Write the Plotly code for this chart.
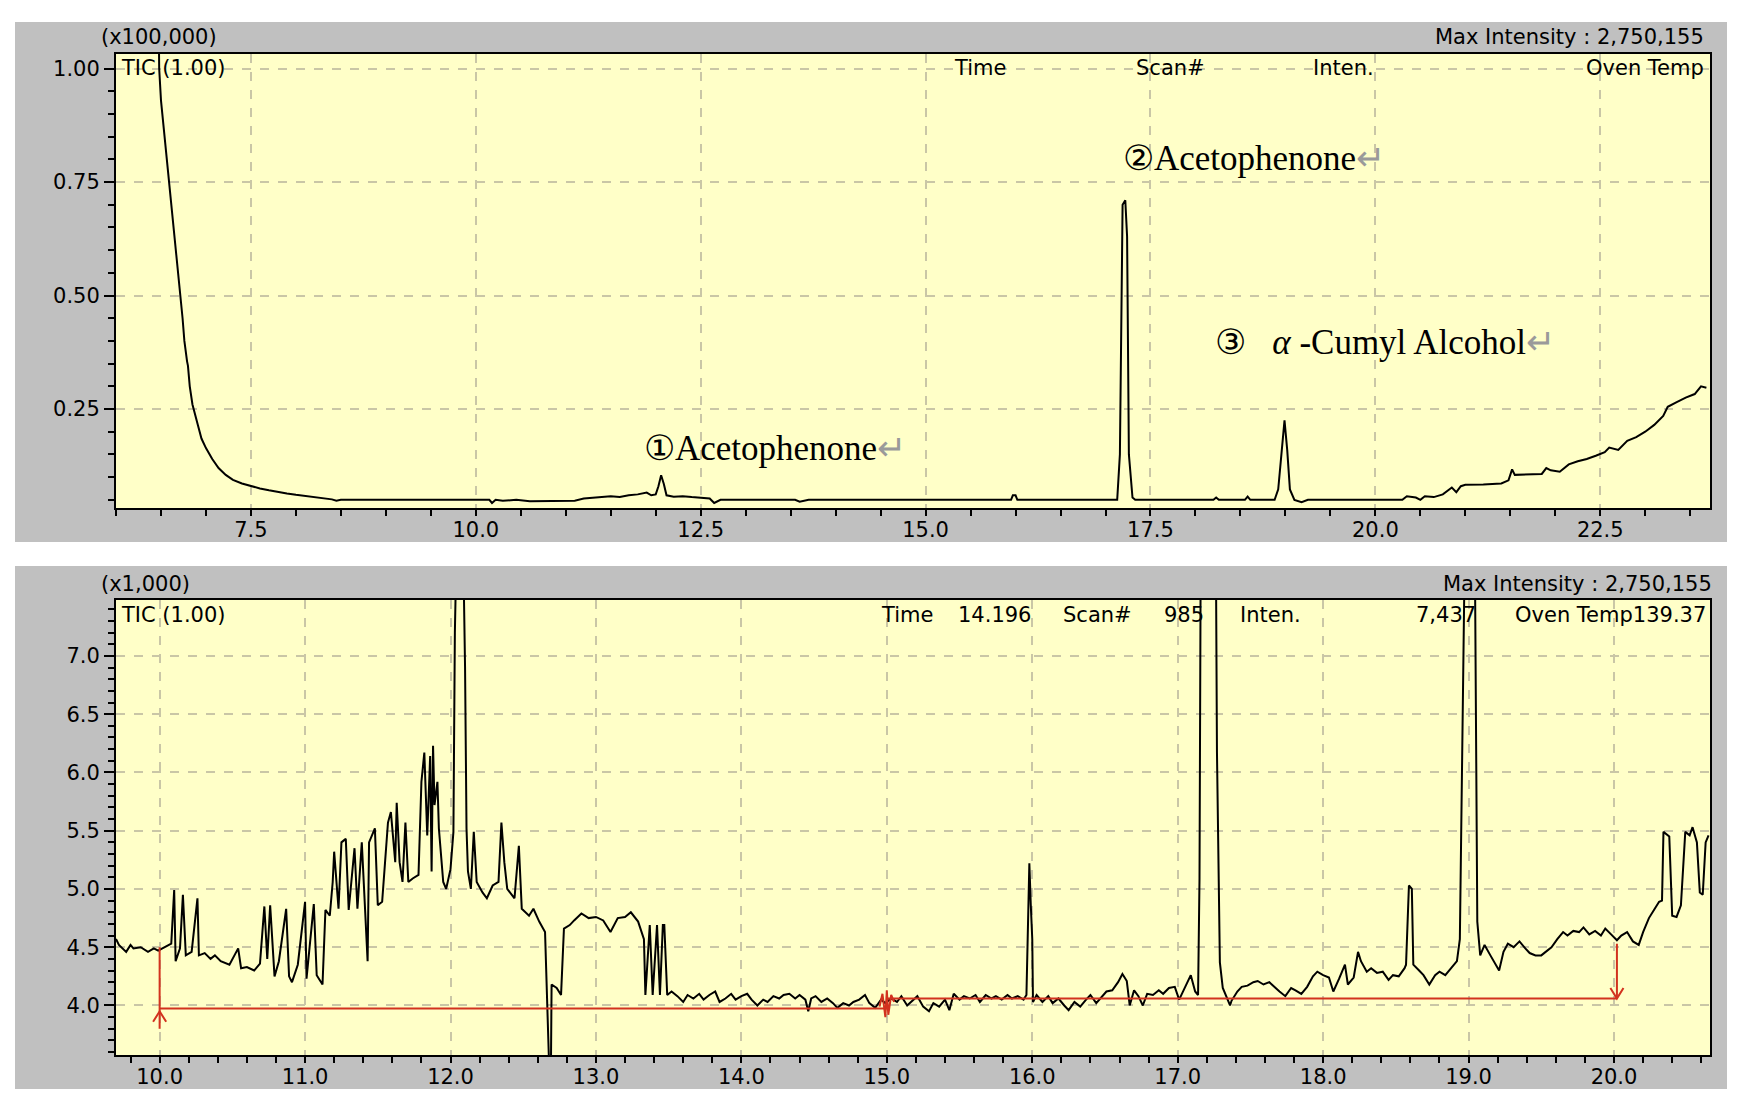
import plotly.graph_objects as go

# ---------------- data (top panel, intensity x100,000) ----------------
top_time = [6.47, 6.48, 6.50, 6.53, 6.56, 6.60, 6.63, 6.66, 6.69, 6.72, 6.74, 6.76, 6.78, 6.79, 6.80,
            6.82, 6.85, 6.88, 6.91, 6.95, 7.00, 7.07, 7.14, 7.22, 7.30, 7.40, 7.52, 7.60, 7.70, 7.77,
            7.90, 8.00, 8.15, 8.27, 8.40, 8.45, 8.50, 9.00, 9.50, 10.00, 10.15, 10.18, 10.22, 10.30,
            10.45, 10.60, 10.80, 11.00, 11.10, 11.20, 11.35, 11.50, 11.60, 11.70, 11.80, 11.90, 11.95,
            12.00, 12.03, 12.06, 12.09, 12.12, 12.20, 12.30, 12.40, 12.50, 12.60, 12.65, 12.72, 13.00,
            13.40, 13.55, 13.60, 13.70, 14.00, 15.00, 15.95, 15.97, 16.00, 16.02, 17.00, 17.13, 17.16,
            17.19, 17.22, 17.24, 17.26, 17.30, 17.33, 18.20, 18.23, 18.26, 18.55, 18.58, 18.61, 18.88,
            18.92, 18.96, 18.99, 19.02, 19.05, 19.10, 19.18, 19.25, 19.50, 20.00, 20.30, 20.35, 20.45,
            20.50, 20.55, 20.65, 20.75, 20.85, 20.90, 20.95, 21.00, 21.20, 21.40, 21.48, 21.52, 21.55,
            21.70, 21.85, 21.90, 21.95, 22.05, 22.15, 22.25, 22.35, 22.45, 22.55, 22.60, 22.70, 22.80,
            22.90, 23.00, 23.10, 23.20, 23.25, 23.35, 23.45, 23.55, 23.62, 23.68]
top_inten = [1.20, 1.00, 0.93, 0.87, 0.81, 0.74, 0.68, 0.62, 0.56, 0.50, 0.45, 0.40, 0.36, 0.355, 0.345,
             0.30, 0.26, 0.235, 0.215, 0.185, 0.164, 0.140, 0.120, 0.105, 0.094, 0.086, 0.079, 0.075, 0.071, 0.068,
             0.064, 0.061, 0.057, 0.054, 0.051, 0.048, 0.050, 0.050, 0.050, 0.050, 0.050, 0.043, 0.050, 0.048,
             0.050, 0.047, 0.048, 0.049, 0.048, 0.053, 0.056, 0.058, 0.056, 0.060, 0.062, 0.066, 0.060,
             0.062, 0.080, 0.104, 0.085, 0.060, 0.057, 0.058, 0.056, 0.055, 0.053, 0.043, 0.050, 0.050,
             0.050, 0.050, 0.046, 0.050, 0.050, 0.050, 0.050, 0.060, 0.060, 0.050, 0.050, 0.050, 0.150,
             0.700, 0.710, 0.630, 0.150, 0.055, 0.050, 0.050, 0.055, 0.050, 0.050, 0.057, 0.050, 0.050,
             0.073, 0.160, 0.225, 0.160, 0.073, 0.050, 0.045, 0.050, 0.050, 0.050, 0.050, 0.058, 0.055,
             0.050, 0.058, 0.056, 0.062, 0.077, 0.067, 0.080, 0.083, 0.084, 0.086, 0.093, 0.117, 0.105,
             0.106, 0.107, 0.120, 0.115, 0.112, 0.128, 0.135, 0.140, 0.147, 0.155, 0.165, 0.160, 0.180,
             0.188, 0.200, 0.215, 0.235, 0.255, 0.265, 0.275, 0.283, 0.300, 0.297]

# ---------------- data (bottom panel, intensity x1,000) ----------------
bot_time = [9.70, 9.72, 9.77, 9.80, 9.82, 9.87, 9.92, 9.96, 9.99, 10.04, 10.08, 10.10, 10.11, 10.14, 10.16,
            10.18, 10.22, 10.26, 10.27, 10.31, 10.35, 10.38, 10.42, 10.48, 10.54, 10.56, 10.60, 10.65, 10.69,
            10.72, 10.74, 10.76, 10.79, 10.82, 10.87, 10.89, 10.91, 10.95, 11.00, 11.01, 11.06, 11.08, 11.12,
            11.14, 11.17, 11.19, 11.20, 11.23, 11.25, 11.28, 11.30, 11.34, 11.36, 11.39, 11.41, 11.43, 11.44,
            11.48, 11.50, 11.53, 11.55, 11.57, 11.59, 11.62, 11.63, 11.65, 11.67, 11.69, 11.71, 11.74, 11.78,
            11.80, 11.82, 11.84, 11.86, 11.87, 11.88, 11.89, 11.91, 11.92, 11.95, 11.97, 12.00, 12.02, 12.03,
            12.05, 12.08, 12.10, 12.11, 12.12, 12.14, 12.16, 12.18, 12.22, 12.25, 12.29, 12.33, 12.35, 12.37,
            12.39, 12.44, 12.47, 12.49, 12.54, 12.57, 12.61, 12.65, 12.66, 12.68, 12.69, 12.695, 12.73, 12.76,
            12.78, 12.82, 12.85, 12.90, 12.95, 13.00, 13.05, 13.10, 13.15, 13.20, 13.24, 13.29, 13.33, 13.34,
            13.37, 13.39, 13.42, 13.44, 13.46, 13.47, 13.49, 13.52, 13.56, 13.60, 13.63, 13.67, 13.71, 13.74,
            13.78, 13.82, 13.85, 13.89, 13.93, 13.96, 14.00, 14.04, 14.07, 14.11, 14.15, 14.18, 14.22, 14.26,
            14.29, 14.33, 14.37, 14.40, 14.44, 14.46, 14.48, 14.51, 14.55, 14.59, 14.63, 14.66, 14.70, 14.74,
            14.77, 14.81, 14.85, 14.88, 14.92, 14.96, 14.99, 15.03, 15.07, 15.10, 15.14, 15.18, 15.21, 15.25,
            15.29, 15.32, 15.36, 15.40, 15.43, 15.46, 15.50, 15.53, 15.57, 15.61, 15.64, 15.68, 15.72, 15.75,
            15.79, 15.83, 15.86, 15.90, 15.94, 15.96, 15.97, 15.98, 15.99, 16.00, 16.005, 16.03, 16.07, 16.11,
            16.14, 16.18, 16.22, 16.25, 16.29, 16.33, 16.37, 16.40, 16.44, 16.48, 16.51, 16.55, 16.59, 16.62,
            16.65, 16.67, 16.70, 16.73, 16.76, 16.79, 16.83, 16.87, 16.90, 16.94, 16.98, 17.01, 17.05, 17.09,
            17.12, 17.14, 17.15, 17.16, 17.26, 17.27, 17.29, 17.31, 17.36, 17.37, 17.41, 17.44, 17.48, 17.52,
            17.55, 17.59, 17.63, 17.67, 17.70, 17.74, 17.78, 17.81, 17.85, 17.89, 17.93, 17.96, 18.00, 18.04,
            18.07, 18.11, 18.15, 18.17, 18.21, 18.24, 18.26, 18.30, 18.33, 18.37, 18.41, 18.45, 18.48, 18.52,
            18.56, 18.57, 18.59, 18.61, 18.62, 18.66, 18.69, 18.73, 18.77, 18.80, 18.84, 18.88, 18.92, 18.94,
            18.96, 18.98, 19.04, 19.05, 19.06, 19.08, 19.11, 19.15, 19.19, 19.21, 19.24, 19.27, 19.31, 19.35,
            19.39, 19.42, 19.46, 19.50, 19.53, 19.57, 19.61, 19.65, 19.68, 19.72, 19.76, 19.79, 19.83, 19.87,
            19.91, 19.94, 19.98, 20.02, 20.05, 20.09, 20.13, 20.17, 20.20, 20.24, 20.28, 20.31, 20.33, 20.34,
            20.38, 20.40, 20.43, 20.46, 20.49, 20.52, 20.54, 20.57, 20.59, 20.61, 20.63, 20.65]
bot_inten = [4.57, 4.52, 4.46, 4.52, 4.49, 4.50, 4.46, 4.49, 4.47, 4.50, 4.53, 4.99, 4.38, 4.49, 4.95,
             4.43, 4.46, 4.92, 4.43, 4.45, 4.40, 4.43, 4.38, 4.35, 4.49, 4.32, 4.33, 4.30, 4.36,
             4.85, 4.40, 4.86, 4.25, 4.38, 4.83, 4.25, 4.20, 4.35, 4.89, 4.23, 4.87, 4.26, 4.18,
             4.82, 4.77, 5.06, 5.32, 4.83, 5.40, 5.43, 4.82, 5.35, 4.83, 5.40, 4.83, 4.38, 5.40,
             5.52, 4.86, 4.89, 5.23, 5.57, 5.66, 5.23, 5.74, 5.23, 5.06, 5.57, 5.06, 5.09, 5.12,
             5.92, 6.17, 5.46, 6.14, 5.15, 6.23, 5.72, 5.92, 5.52, 5.06, 5.00, 5.17, 5.49, 7.20,
             8.50, 8.50, 6.91, 5.52, 5.15, 5.00, 5.49, 5.06, 4.97, 4.92, 5.03, 5.06, 5.57, 5.23,
             5.00, 4.92, 5.37, 4.83, 4.77, 4.83, 4.72, 4.63, 4.12, 3.40, 3.40, 4.18, 4.15, 4.09,
             4.66, 4.69, 4.73, 4.79, 4.75, 4.76, 4.73, 4.63, 4.75, 4.76, 4.80, 4.72, 4.57, 4.09,
             4.69, 4.09, 4.69, 4.09, 4.69, 4.69, 4.09, 4.12, 4.08, 4.03, 4.09, 4.06, 4.10, 4.05,
             4.09, 4.12, 4.03, 4.06, 4.10, 4.05, 4.08, 4.10, 4.05, 4.00, 4.05, 4.03, 4.08, 4.06,
             4.09, 4.10, 4.06, 4.09, 4.05, 3.95, 4.06, 4.08, 4.03, 4.06, 4.02, 3.98, 4.02, 4.00,
             4.03, 4.05, 4.09, 4.02, 3.98, 4.05, 4.02, 4.06, 4.03, 4.08, 4.00, 4.05, 4.08, 3.99,
             3.95, 4.02, 3.99, 4.05, 3.96, 4.10, 4.05, 4.08, 4.06, 4.09, 4.03, 4.09, 4.06, 4.08,
             4.05, 4.09, 4.06, 4.08, 4.05, 4.09, 4.57, 5.22, 4.86, 4.57, 4.03, 4.09, 4.03, 4.08,
             4.02, 4.06, 4.00, 3.96, 4.03, 3.99, 4.05, 4.09, 4.02, 4.08, 4.12, 4.13, 4.20, 4.27,
             4.21, 4.00, 4.13, 4.08, 4.00, 4.10, 4.09, 4.13, 4.10, 4.15, 4.16, 4.05, 4.16, 4.26,
             4.12, 4.09, 5.09, 8.50, 8.50, 6.17, 4.37, 4.15, 4.00, 4.04, 4.12, 4.16, 4.17, 4.20,
             4.21, 4.18, 4.20, 4.15, 4.12, 4.08, 4.15, 4.13, 4.10, 4.16, 4.25, 4.29, 4.26, 4.24,
             4.12, 4.23, 4.35, 4.18, 4.24, 4.46, 4.38, 4.29, 4.32, 4.28, 4.29, 4.22, 4.26, 4.25,
             4.32, 4.35, 5.03, 5.00, 4.35, 4.30, 4.26, 4.18, 4.26, 4.29, 4.26, 4.32, 4.38, 4.57,
             6.46, 8.50, 8.50, 6.56, 4.72, 4.43, 4.52, 4.43, 4.35, 4.30, 4.46, 4.53, 4.50, 4.55,
             4.49, 4.45, 4.43, 4.43, 4.46, 4.50, 4.57, 4.63, 4.60, 4.64, 4.63, 4.67, 4.61, 4.64,
             4.60, 4.66, 4.61, 4.56, 4.60, 4.63, 4.55, 4.52, 4.63, 4.75, 4.83, 4.89, 4.90, 5.49,
             5.45, 4.77, 4.76, 4.86, 5.49, 5.46, 5.53, 5.40, 4.97, 4.95, 5.40, 5.46]

# red baseline markers (bottom panel)
base_left_t = [10.0, 15.0]
base_left_v = [3.975, 3.975]
base_right_t = [15.0, 20.02]
base_right_v = [4.06, 4.06]
start_bar_t = [10.0, 10.0]
start_bar_v = [4.50, 3.80]
start_head_t = [9.955, 10.0, 10.045]
start_head_v = [3.86, 3.95, 3.86]
end_bar_t = [20.02, 20.02]
end_bar_v = [4.53, 4.06]
end_head_t = [19.975, 20.02, 20.065]
end_head_v = [4.15, 4.06, 4.15]
split_mark_t = [14.95, 14.97, 14.99, 15.0, 15.01, 15.03, 15.05]
split_mark_v = [3.99, 4.10, 3.90, 4.13, 3.92, 4.09, 4.03]

W, H = 1764, 1114
YELLOW = "#FFFFC8"
GRAY = "#C0C0C0"
GRID = "#C9C6A6"
TICKFONT = dict(family="DejaVu Sans", size=21, color="black")


def px(x):
    return x / W


def py(y):
    return 1 - y / H


fig = go.Figure()
fig.add_trace(go.Scatter(x=top_time, y=top_inten, mode="lines", xaxis="x", yaxis="y",
                         line=dict(color="black", width=2), showlegend=False, hoverinfo="skip"))
fig.add_trace(go.Scatter(x=bot_time, y=bot_inten, mode="lines", xaxis="x2", yaxis="y2",
                         line=dict(color="black", width=2), showlegend=False, hoverinfo="skip"))
for tx, ty in [(base_left_t, base_left_v), (base_right_t, base_right_v), (start_bar_t, start_bar_v),
               (start_head_t, start_head_v), (end_bar_t, end_bar_v), (end_head_t, end_head_v),
               (split_mark_t, split_mark_v)]:
    fig.add_trace(go.Scatter(x=tx, y=ty, mode="lines", xaxis="x2", yaxis="y2",
                             line=dict(color="#D2321E", width=2), showlegend=False, hoverinfo="skip"))


def axis(rng, dtick, minor_dtick, fmt, domain, anchor, ticklen, minorlen, standoff=0):
    return dict(range=rng, domain=domain, anchor=anchor, dtick=dtick, tick0=0, tickformat=fmt,
                showline=True, linecolor="black", linewidth=2, mirror=True,
                ticks="outside", ticklen=ticklen, tickwidth=2, tickcolor="black",
                ticklabelstandoff=standoff,
                showgrid=True, gridcolor=GRID, griddash="dash", gridwidth=1.5,
                zeroline=False, tickfont=TICKFONT, fixedrange=True,
                minor=dict(dtick=minor_dtick, tick0=0, ticks="outside", ticklen=minorlen, tickwidth=2,
                           tickcolor="black", showgrid=False))


xdom = [px(116), px(1710)]
top_dom = [py(508), py(54)]
bot_dom = [py(1055), py(600)]

fig.update_layout(
    width=W, height=H, margin=dict(l=0, r=0, t=0, b=0),
    paper_bgcolor="white", plot_bgcolor="rgba(0,0,0,0)",
    xaxis=axis([6.0, 23.72], 2.5, 0.5, ".1f", xdom, "y", 6, 6, -4),
    yaxis=axis([0.032, 1.032], 0.25, 0.05, ".2f", top_dom, "x", 10, 6),
    xaxis2=axis([9.70, 20.66], 1.0, 0.2, ".1f", xdom, "y2", 6, 6, -4),
    yaxis2=axis([3.575, 7.48], 0.5, 0.1, ".1f", bot_dom, "x2", 10, 6),
)

shapes = [
    dict(type="rect", xref="paper", yref="paper", x0=px(15), x1=px(1727), y0=py(542), y1=py(22),
         fillcolor=GRAY, line=dict(width=0), layer="below"),
    dict(type="rect", xref="paper", yref="paper", x0=px(15), x1=px(1727), y0=py(1089), y1=py(566),
         fillcolor=GRAY, line=dict(width=0), layer="below"),
    dict(type="rect", xref="x domain", yref="y domain", x0=0, x1=1, y0=0, y1=1,
         fillcolor=YELLOW, line=dict(width=0), layer="below"),
    dict(type="rect", xref="x2 domain", yref="y2 domain", x0=0, x1=1, y0=0, y1=1,
         fillcolor=YELLOW, line=dict(width=0), layer="below"),
]
fig.update_layout(shapes=shapes)

SANS = dict(family="DejaVu Sans", size=21, color="black")
SERIF = dict(family="Liberation Serif", size=35, color="black")


def label(text, x, y, anchor="left", font=SANS):
    fig.add_annotation(text=text, xref="paper", yref="paper", x=px(x), y=py(y), xanchor=anchor,
                       yanchor="middle", showarrow=False, font=font)


# top panel texts
label("(x100,000)", 99, 37)
label("Max Intensity : 2,750,155", 1706, 37, "right")
label("TIC (1.00)", 119, 68)
label("Time", 952, 68)
label("Scan#", 1134, 68)
label("Inten.", 1311, 68)
label("Oven Temp", 1706, 68, "right")

# bottom panel texts
label("(x1,000)", 99, 584)
label("Max Intensity : 2,750,155", 1714, 584, "right")
label("TIC (1.00)", 119, 615)
label("Time", 879, 615)
label("14.196", 956, 615)
label("Scan#", 1061, 615)
label("985", 1206, 615, "right")
label("Inten.", 1238, 615)
label("7,437", 1478, 615, "right")
label("Oven Temp139.37", 1708, 615, "right")

RET = "<span style='color:#9a9a9a'>\u21b5</span>"
label("\u2460Acetophenone" + RET, 642, 448, font=SERIF)
label("\u2461Acetophenone" + RET, 1121, 158, font=SERIF)
label("\u2462\u00a0\u00a0\u00a0<i>\u03b1</i>\u00a0-Cumyl Alcohol" + RET, 1213, 342, font=SERIF)

fig.write_html("out.html", config={"displayModeBar": False},
               post_script="document.body.style.margin='0';")
